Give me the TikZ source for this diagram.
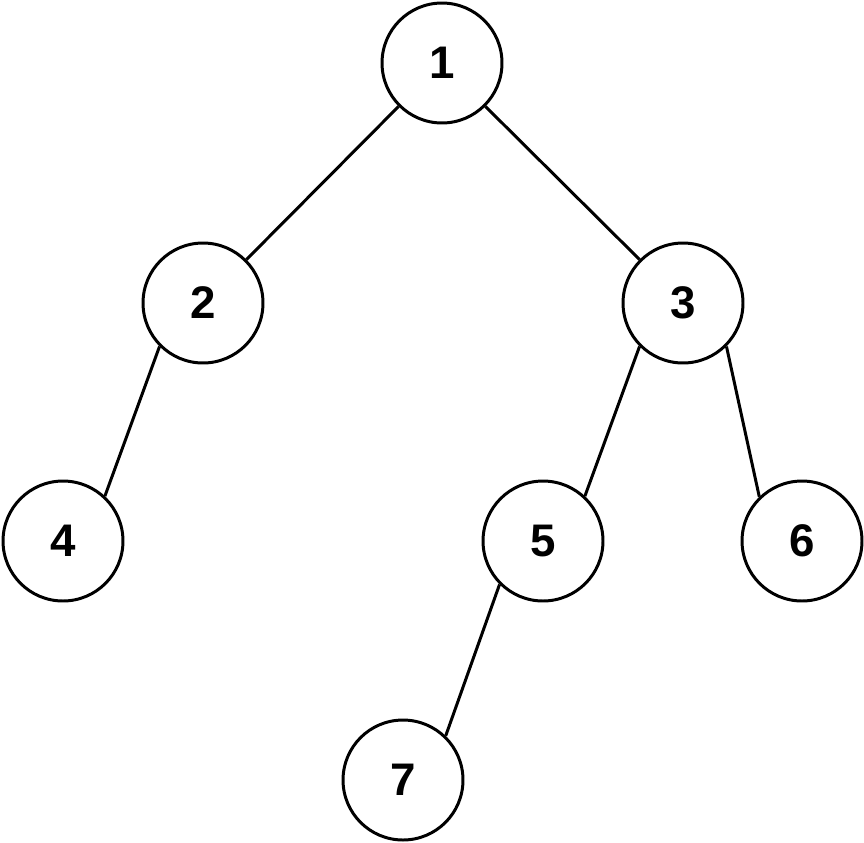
\documentclass[tikz,border=0pt]{standalone}
\usepackage{fontspec}
\setmainfont{Liberation Sans}
\usetikzlibrary{positioning}

\begin{document}
\begin{tikzpicture}[x=0.02cm,y=-0.02cm]
\tikzset{vertex/.style={draw,circle,line width=1.7pt,minimum size=2.4cm,inner sep=0pt,font=\fontsize{26}{30}\selectfont\bfseries},
edge/.style={line width=1.7pt}}
\useasboundingbox (0,0) rectangle (864,842);
\node[vertex] (n1) at (442,63) {1};
\node[vertex] (n2) at (203,303) {2};
\node[vertex] (n3) at (683,303) {3};
\node[vertex] (n4) at (63,541) {4};
\node[vertex] (n5) at (543,541) {5};
\node[vertex] (n6) at (802,541) {6};
\node[vertex] (n7) at (403,780) {7};
\draw[edge] (n1.south west) -- (n2.north east);
\draw[edge] (n1.south east) -- (n3.north west);
\draw[edge] (n2.south west) -- (n4.47);
\draw[edge] (n3.south west) -- (n5.47);
\draw[edge] (n3.south east) -- (n6.134);
\draw[edge] (n5.south west) -- (n7.46);
\end{tikzpicture}
\end{document}
